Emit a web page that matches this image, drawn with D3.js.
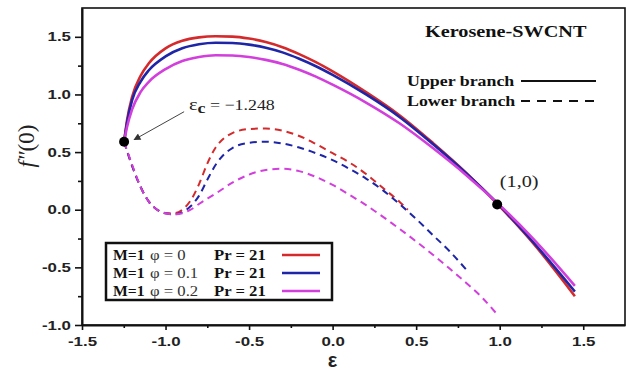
<!DOCTYPE html>
<html>
<head>
<meta charset="utf-8">
<script src="https://cdn.jsdelivr.net/npm/d3@7"></script>
<style>
  html, body { margin: 0; padding: 0; background: #fff; }
  svg { display: block; }
</style>
</head>
<body>
<div id="chart"></div>
<script>
// axis ticks
const xTicks = [-1.5, -1.0, -0.5, 0.0, 0.5, 1.0, 1.5];
const yTicks = [-1.0, -0.5, 0.0, 0.5, 1.0, 1.5];

// upper branch (solid)
const epsUpper = [-1.248, -1.23, -1.2, -1.15, -1.1, -1.0, -0.9, -0.8, -0.7, -0.6, -0.5, -0.4, -0.3, -0.2, -0.1, 0.0, 0.2, 0.4, 0.6, 0.8, 1.0, 1.2, 1.45];
const upperPhi0 = [0.59, 0.78, 0.98, 1.16, 1.27, 1.40, 1.465, 1.495, 1.505, 1.502, 1.485, 1.455, 1.41, 1.35, 1.28, 1.20, 1.02, 0.82, 0.58, 0.32, 0.03, -0.29, -0.75];
const upperPhi01 = [0.59, 0.76, 0.95, 1.11, 1.21, 1.33, 1.40, 1.435, 1.448, 1.446, 1.432, 1.405, 1.365, 1.31, 1.245, 1.17, 1.0, 0.805, 0.57, 0.315, 0.035, -0.28, -0.71];
const upperPhi02 = [0.59, 0.72, 0.87, 1.02, 1.11, 1.22, 1.29, 1.325, 1.34, 1.338, 1.325, 1.30, 1.265, 1.215, 1.155, 1.085, 0.93, 0.75, 0.535, 0.30, 0.04, -0.25, -0.66];

// lower branch (dashed)
const epsLowerPhi0 = [-1.248, -1.2, -1.15, -1.1, -1.05, -1.0, -0.95, -0.9, -0.85, -0.8, -0.75, -0.7, -0.65, -0.6, -0.5, -0.4, -0.3, -0.2, -0.1, 0.0, 0.1, 0.2, 0.3, 0.4, 0.45];
const lowerPhi0 = [0.59, 0.38, 0.2, 0.07, 0.0, -0.03, -0.03, 0.0, 0.08, 0.22, 0.40, 0.54, 0.62, 0.665, 0.70, 0.705, 0.685, 0.64, 0.57, 0.49, 0.41, 0.31, 0.19, 0.07, 0.0];
const epsLowerPhi01 = [-1.248, -1.2, -1.15, -1.1, -1.05, -1.0, -0.95, -0.9, -0.85, -0.8, -0.75, -0.7, -0.65, -0.6, -0.5, -0.4, -0.3, -0.2, -0.1, 0.0, 0.1, 0.2, 0.3, 0.4, 0.5, 0.6, 0.7, 0.8];
const lowerPhi01 = [0.59, 0.38, 0.2, 0.07, 0.0, -0.03, -0.04, -0.02, 0.03, 0.12, 0.26, 0.39, 0.48, 0.535, 0.58, 0.59, 0.575, 0.54, 0.49, 0.43, 0.355, 0.27, 0.17, 0.05, -0.08, -0.22, -0.36, -0.52];
const epsLowerPhi02 = [-1.248, -1.2, -1.15, -1.1, -1.05, -1.0, -0.95, -0.9, -0.85, -0.8, -0.7, -0.6, -0.5, -0.4, -0.3, -0.2, -0.1, 0.0, 0.1, 0.2, 0.3, 0.4, 0.5, 0.6, 0.7, 0.8, 0.9, 0.98];
const lowerPhi02 = [0.59, 0.39, 0.2, 0.07, 0.0, -0.03, -0.04, -0.03, 0.0, 0.05, 0.14, 0.235, 0.305, 0.345, 0.355, 0.335, 0.285, 0.215, 0.13, 0.04, -0.06, -0.165, -0.275, -0.39, -0.51, -0.635, -0.77, -0.9];

// marked points
const epsC = -1.248, fC = 0.59;
const epsP = 0.985, fP = 0.045;

const legendRows = [
  { m: 'M=1', phi: 'φ = 0', pr: 'Pr = 21' },
  { m: 'M=1', phi: 'φ = 0.1', pr: 'Pr = 21' },
  { m: 'M=1', phi: 'φ = 0.2', pr: 'Pr = 21' }
];
const colors = ['#d42a2c', '#1e25a6', '#d23fdc'];

const W = 629, H = 370;
const margin = { top: 8, right: 4, bottom: 45, left: 82 };
const SX = 1.19;   // the picture is stretched sideways

const x = d3.scaleLinear().domain([-1.5, 1.75]).range([margin.left, W - margin.right]);
const y = d3.scaleLinear().domain([-1.0, 1.75]).range([H - margin.bottom, margin.top]);

const svg = d3.select('#chart').append('svg')
  .attr('width', W).attr('height', H)
  .attr('viewBox', `0 0 ${W} ${H}`);

svg.append('defs').append('marker')
  .attr('id', 'arrow')
  .attr('viewBox', '0 0 10 10')
  .attr('refX', 9).attr('refY', 5)
  .attr('markerWidth', 9).attr('markerHeight', 7)
  .attr('markerUnits', 'userSpaceOnUse')
  .attr('orient', 'auto')
  .append('path').attr('d', 'M0,0 L10,5 L0,10 Z').attr('fill', '#333');

// stretch a text element sideways
function stretch(t, k) {
  t.each(function () {
    const len = this.getComputedTextLength();
    d3.select(this).attr('textLength', len * (k || SX)).attr('lengthAdjust', 'spacingAndGlyphs');
  });
  return t;
}

// frame
svg.append('rect')
  .attr('x', x(-1.5)).attr('y', y(1.75))
  .attr('width', x(1.75) - x(-1.5)).attr('height', y(-1.0) - y(1.75))
  .attr('fill', 'none').attr('stroke', '#111').attr('stroke-width', 1.6);

// x axis
const xMinor = d3.range(-1.25, 1.75, 0.5);
const xAxisG = svg.append('g').attr('transform', `translate(0,${y(-1.0)})`);
xAxisG.call(d3.axisBottom(x).tickValues(xTicks).tickSize(5).tickSizeOuter(0).tickFormat(d => d.toFixed(1)));
svg.append('g').attr('transform', `translate(0,${y(-1.0)})`)
  .call(d3.axisBottom(x).tickValues(xMinor).tickSize(3).tickSizeOuter(0).tickFormat(''))
  .select('.domain').remove();

// y axis
const yMinor = d3.range(-0.75, 1.75, 0.5);
const yAxisG = svg.append('g').attr('transform', `translate(${x(-1.5)},0)`);
yAxisG.call(d3.axisLeft(y).tickValues(yTicks).tickSize(7).tickSizeOuter(0).tickFormat(d => d.toFixed(1)));
svg.append('g').attr('transform', `translate(${x(-1.5)},0)`)
  .call(d3.axisLeft(y).tickValues(yMinor).tickSize(4).tickSizeOuter(0).tickFormat(''))
  .select('.domain').remove();

svg.selectAll('.domain').attr('stroke', '#111').attr('stroke-width', 2);
svg.selectAll('.tick line').attr('stroke', '#111').attr('stroke-width', 1.6);
svg.selectAll('.tick text')
  .attr('font-family', 'Liberation Sans, Arial, sans-serif')
  .attr('font-weight', 'bold')
  .attr('font-size', 12.5)
  .attr('fill', '#222');
xAxisG.selectAll('.tick text').attr('dy', '1.05em');
yAxisG.selectAll('.tick text').attr('dx', '-1px');
stretch(xAxisG.selectAll('.tick text'), 1.35);
stretch(yAxisG.selectAll('.tick text'), 1.35);

// axis titles
svg.append('text')
  .attr('x', x(0)).attr('y', 367)
  .attr('text-anchor', 'middle')
  .attr('font-family', 'Liberation Sans, Arial, sans-serif')
  .attr('font-weight', 'bold')
  .attr('font-size', 20)
  .attr('fill', '#222')
  .text('ε');

const yLab = svg.append('text')
  .attr('transform', 'translate(34,146) rotate(-90)')
  .attr('text-anchor', 'middle')
  .attr('font-family', 'Liberation Serif, Times New Roman, serif')
  .attr('font-size', 23)
  .attr('fill', '#222');
yLab.append('tspan').attr('font-style', 'italic').text('f″');
yLab.append('tspan').text('(0)');

// curves
const line = d3.line().curve(d3.curveMonotoneX).x(d => x(d[0])).y(d => y(d[1]));

const lower = [
  [epsLowerPhi0, lowerPhi0],
  [epsLowerPhi01, lowerPhi01],
  [epsLowerPhi02, lowerPhi02]
];
lower.forEach((s, i) => {
  svg.append('path')
    .datum(d3.zip(s[0], s[1]))
    .attr('fill', 'none')
    .attr('stroke', colors[i])
    .attr('stroke-width', 2)
    .attr('stroke-dasharray', '7,5')
    .attr('d', line);
});

const upper = [upperPhi0, upperPhi01, upperPhi02];
upper.forEach((s, i) => {
  svg.append('path')
    .datum(d3.zip(epsUpper, s))
    .attr('fill', 'none')
    .attr('stroke', colors[i])
    .attr('stroke-width', 2.6)
    .attr('stroke-linejoin', 'round')
    .attr('d', line);
});

// marked points
svg.append('circle').attr('cx', x(epsC)).attr('cy', y(fC)).attr('r', 5).attr('fill', '#000');
svg.append('circle').attr('cx', x(epsP)).attr('cy', y(fP)).attr('r', 5).attr('fill', '#000');

// arrow + critical value label
svg.append('line')
  .attr('x1', x(epsC) + 60).attr('y1', y(fC) - 30)
  .attr('x2', x(epsC) + 10).attr('y2', y(fC) - 2)
  .attr('stroke', '#444').attr('stroke-width', 1)
  .attr('marker-end', 'url(#arrow)');

const crit = svg.append('text')
  .attr('x', x(epsC) + 65).attr('y', y(fC) - 32)
  .attr('font-family', 'Liberation Serif, Times New Roman, serif')
  .attr('font-size', 15)
  .attr('fill', '#222');
crit.append('tspan').attr('font-size', 17).text('ε');
crit.append('tspan').attr('font-weight', 'bold').attr('dy', 3).text('c');
crit.append('tspan').attr('dy', -3).text(' = −1.248');
stretch(crit);

stretch(svg.append('text')
  .attr('x', x(epsP) + 22).attr('y', y(fP) - 18)
  .attr('text-anchor', 'middle')
  .attr('font-family', 'Liberation Serif, Times New Roman, serif')
  .attr('font-size', 17)
  .attr('fill', '#222')
  .text('(1,0)'));

// title
stretch(svg.append('text')
  .attr('x', 425).attr('y', 37)
  .attr('font-family', 'Liberation Serif, Times New Roman, serif')
  .attr('font-weight', 'bold')
  .attr('font-size', 17)
  .attr('fill', '#111')
  .text('Kerosene-SWCNT'));

// branch legend
const branch = [{ label: 'Upper branch', dash: null, y: 81 }, { label: 'Lower branch', dash: '9,7', y: 101 }];
branch.forEach(b => {
  stretch(svg.append('text')
    .attr('x', 407).attr('y', b.y + 5)
    .attr('font-family', 'Liberation Serif, Times New Roman, serif')
    .attr('font-weight', 'bold')
    .attr('font-size', 15)
    .attr('fill', '#111')
    .text(b.label));
  svg.append('line')
    .attr('x1', 521).attr('x2', 596).attr('y1', b.y).attr('y2', b.y)
    .attr('stroke', '#111').attr('stroke-width', 2)
    .attr('stroke-dasharray', b.dash);
});

// parameter legend
const lg = svg.append('g');
lg.append('rect')
  .attr('x', 106).attr('y', 243).attr('width', 226).attr('height', 57)
  .attr('fill', '#fff').attr('stroke', '#111').attr('stroke-width', 2.5);
legendRows.forEach((r, i) => {
  const yy = 255 + i * 18;
  stretch(lg.append('text').attr('x', 113).attr('y', yy + 5)
    .attr('font-family', 'Liberation Serif, Times New Roman, serif')
    .attr('font-weight', 'bold').attr('font-size', 14).attr('fill', '#111')
    .text(r.m), 1.12);
  stretch(lg.append('text').attr('x', 150).attr('y', yy + 5)
    .attr('font-family', 'Liberation Serif, Times New Roman, serif')
    .attr('font-size', 14).attr('fill', '#333')
    .text(r.phi));
  stretch(lg.append('text').attr('x', 214).attr('y', yy + 5)
    .attr('font-family', 'Liberation Serif, Times New Roman, serif')
    .attr('font-weight', 'bold').attr('font-size', 14).attr('fill', '#111')
    .text(r.pr));
  lg.append('line')
    .attr('x1', 282).attr('x2', 320).attr('y1', yy).attr('y2', yy)
    .attr('stroke', colors[i]).attr('stroke-width', 2.6);
});
</script>
</body>
</html>
